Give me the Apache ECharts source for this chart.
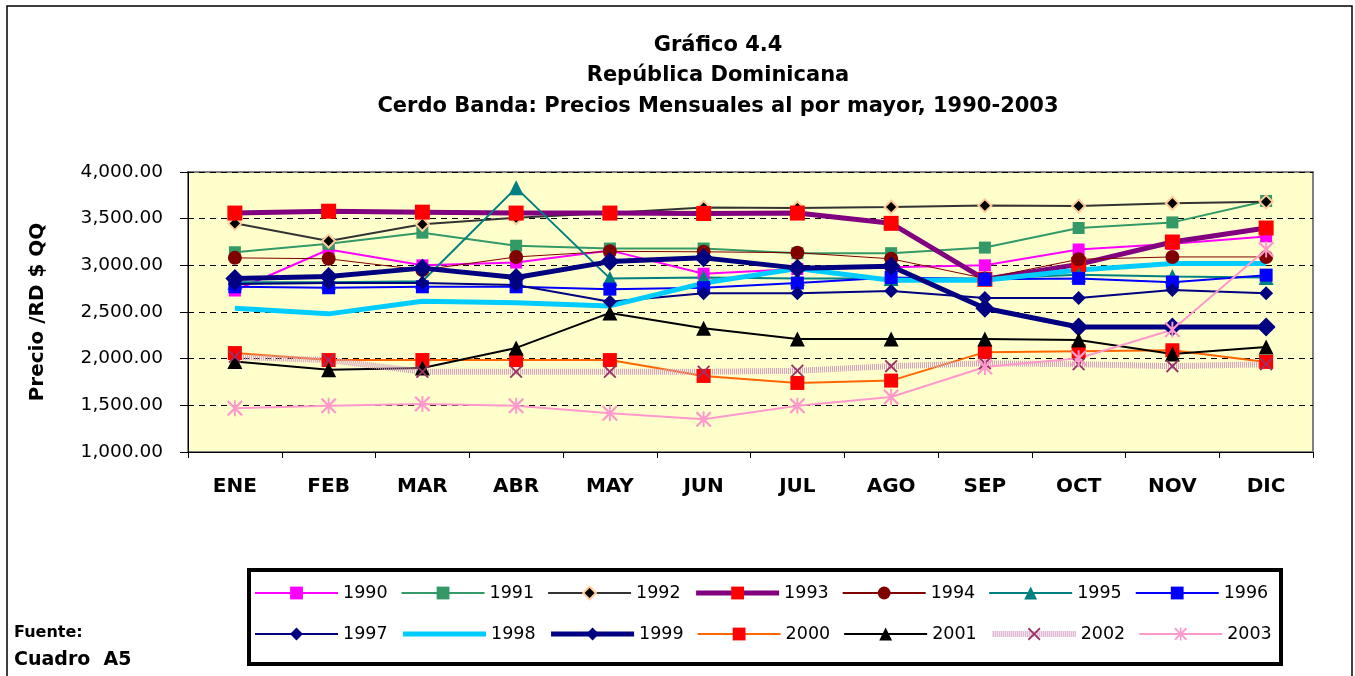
<!DOCTYPE html>
<html>
<head>
<meta charset="utf-8">
<title>Gráfico 4.4</title>
<script src="https://cdn.jsdelivr.net/npm/echarts@6/dist/echarts.min.js"></script>
<style>
  html, body { margin: 0; padding: 0; background: #fff; }
  #main { width: 1355px; height: 676px; }
</style>
</head>
<body>
<div id="main"></div>
<script>
// datos
var meses = ['ENE', 'FEB', 'MAR', 'ABR', 'MAY', 'JUN', 'JUL', 'AGO', 'SEP', 'OCT', 'NOV', 'DIC'];
var p1990 = [2730, 3170, 3000, 3030, 3160, 2910, 2960, 2980, 3000, 3170, 3230, 3310];
var p1991 = [3140, 3230, 3350, 3210, 3180, 3180, 3130, 3130, 3190, 3400, 3460, 3690];
var p1992 = [3450, 3260, 3440, 3510, 3560, 3620, 3615, 3625, 3640, 3635, 3665, 3680];
var p1993 = [3560, 3580, 3570, 3560, 3560, 3555, 3560, 3450, 2850, 3010, 3250, 3400];
var p1994 = [3080, 3070, 2950, 3090, 3150, 3145, 3135, 3070, 2860, 3065, 3090, 3090];
var p1995 = [2820, 2820, 2830, 3830, 2860, 2870, 2860, 2860, 2860, 2900, 2880, 2870];
var p1996 = [2770, 2760, 2770, 2770, 2745, 2760, 2810, 2870, 2850, 2860, 2820, 2895];
var p1997 = [2800, 2810, 2810, 2790, 2610, 2700, 2700, 2725, 2650, 2650, 2735, 2700];
var p1998 = [2540, 2480, 2615, 2600, 2565, 2810, 2965, 2840, 2840, 2950, 3020, 3020];
var p1999 = [2860, 2880, 2970, 2870, 3040, 3080, 2970, 2990, 2540, 2340, 2340, 2340];
var p2000 = [2060, 1985, 1985, 1985, 1985, 1815, 1740, 1765, 2070, 2080, 2090, 1965];
var p2001 = [1970, 1880, 1900, 2115, 2490, 2325, 2210, 2210, 2210, 2200, 2050, 2125];
var p2002 = [2020, 1985, 1860, 1860, 1860, 1860, 1870, 1920, 1950, 1940, 1920, 1940];
var p2003 = [1470, 1495, 1515, 1495, 1415, 1350, 1495, 1590, 1910, 2005, 2310, 3170];
var fila1 = ['1990', '1991', '1992', '1993', '1994', '1995', '1996'];
var fila2 = ['1997', '1998', '1999', '2000', '2001', '2002', '2003'];

var FONT = 'DejaVu Sans';
var simX = 'path://M0,1 L1,0 L5,4 L9,0 L10,1 L6,5 L10,9 L9,10 L5,6 L1,10 L0,9 L4,5 Z';
var simAst = 'path://M4.4,0 L5.6,0 L5.6,10 L4.4,10 Z M0,1 L1,0 L5,4 L9,0 L10,1 L6,5 L10,9 L9,10 L5,6 L1,10 L0,9 L4,5 Z';

function serie(nombre, datos, color, ancho, simbolo, tam, colorSim, borde) {
    return {
        name: nombre,
        type: 'line',
        data: datos,
        symbol: simbolo,
        symbolSize: tam,
        showSymbol: simbolo !== 'none',
        lineStyle: { color: color, width: ancho },
        itemStyle: {
            color: colorSim || color,
            borderColor: borde || (colorSim || color),
            borderWidth: borde ? 2 : 0
        },
        emphasis: { disabled: true },
        animation: false
    };
}

var s2002 = serie('2002', p2002, '#D39BC0', 6, simX, 13, '#993366');
s2002.lineStyle.type = [1, 1];

// la leyenda no hereda los anchos gruesos, se ponen a mano
var estiloLeyenda = {
    '1993': { lineStyle: { width: 5 } },
    '1998': { lineStyle: { width: 5 }, itemStyle: { opacity: 0 } },
    '1999': { lineStyle: { width: 5 } },
    '2002': { lineStyle: { width: 6, type: [1, 1] } }
};
function itemsLeyenda(fila) {
    return fila.map(function (n) {
        var it = { name: n };
        if (estiloLeyenda[n]) {
            it.lineStyle = estiloLeyenda[n].lineStyle;
            if (estiloLeyenda[n].itemStyle) it.itemStyle = estiloLeyenda[n].itemStyle;
        }
        return it;
    });
}

function leyenda(fila, arriba) {
    return {
        data: itemsLeyenda(fila),
        left: 254,
        top: arriba,
        padding: 0,
        itemWidth: 83,
        itemHeight: 16,
        itemGap: 13,
        textStyle: { fontFamily: FONT, fontSize: 17.5, color: '#000' }
    };
}

var myChart = echarts.init(document.getElementById('main'));
var option = {
    backgroundColor: '#fff',
    textStyle: { fontFamily: FONT },
    title: {
        text: 'Gráfico 4.4\nRepública Dominicana\nCerdo Banda: Precios Mensuales al por mayor, 1990-2003',
        left: 713,
        top: 25,
        textAlign: 'center',
        textStyle: { fontFamily: FONT, fontSize: 21, fontWeight: 'bold', color: '#000', lineHeight: 30.5 }
    },
    legend: [leyenda(fila1, 584), leyenda(fila2, 625)],
    grid: {
        left: 188, right: 42, top: 172, bottom: 224,
        show: true,
        backgroundColor: '#FFFFCC',
        borderColor: '#808080',
        borderWidth: 2
    },
    xAxis: {
        type: 'category',
        data: meses,
        boundaryGap: true,
        axisLine: { lineStyle: { color: '#000', width: 1 } },
        axisTick: { show: true, length: 6, lineStyle: { color: '#000' } },
        axisLabel: { fontFamily: FONT, fontSize: 20, fontWeight: 'bold', color: '#000', margin: 25 }
    },
    yAxis: {
        type: 'value',
        min: 1000,
        max: 4000,
        interval: 500,
        name: 'Precio /RD $ QQ',
        nameLocation: 'middle',
        nameRotate: 90,
        nameGap: 140,
        nameTextStyle: { fontFamily: FONT, fontSize: 20, fontWeight: 'bold', color: '#000' },
        axisLine: { show: true, lineStyle: { color: '#000', width: 1 } },
        axisTick: { show: true, length: 8, lineStyle: { color: '#000' } },
        axisLabel: {
            fontFamily: FONT, fontSize: 18.5, color: '#000', margin: 25,
            formatter: function (v) {
                return v.toFixed(2).replace(/\B(?=(\d{3})+(?!\d))/g, ',');
            }
        },
        splitLine: { show: true, lineStyle: { color: '#000', type: [6, 5], width: 1 } }
    },
    graphic: [
        { type: 'rect', shape: { x: 7, y: 6, width: 1345, height: 680 }, style: { fill: 'none', stroke: '#000', lineWidth: 1.5 }, z: -1 },
        { type: 'rect', shape: { x: 249, y: 570, width: 1032, height: 94 }, style: { fill: '#fff', stroke: '#000', lineWidth: 4 }, z: -1 },
        { type: 'text', left: 14, top: 625, style: { text: 'Fuente:', font: 'bold 16px "DejaVu Sans"', fill: '#000' } },
        { type: 'text', left: 14, top: 651, style: { text: 'Cuadro  A5', font: 'bold 19px "DejaVu Sans"', fill: '#000' } }
    ],
    series: [
        serie('1990', p1990, '#FF00FF', 2, 'rect', 12),
        serie('1991', p1991, '#339966', 2, 'rect', 12),
        serie('1992', p1992, '#333333', 2, 'diamond', 13, '#000', '#FFCC99'),
        serie('1993', p1993, '#800080', 5, 'rect', 15, '#FF0000'),
        serie('1994', p1994, '#800000', 1, 'circle', 14),
        serie('1995', p1995, '#008080', 2, 'triangle', 15),
        serie('1996', p1996, '#0000FF', 2, 'rect', 13),
        serie('1997', p1997, '#000080', 2, 'diamond', 14),
        serie('1998', p1998, '#00CCFF', 5, 'none', 0),
        serie('1999', p1999, '#000080', 5, 'diamond', 19),
        serie('2000', p2000, '#FF6600', 2, 'rect', 14, '#FF0000'),
        serie('2001', p2001, '#000000', 2, 'triangle', 15),
        s2002,
        serie('2003', p2003, '#FF99CC', 2, simAst, 16)
    ]
};
myChart.setOption(option);
window.addEventListener('resize', function () {
    myChart.resize();
});
</script>
</body>
</html>
